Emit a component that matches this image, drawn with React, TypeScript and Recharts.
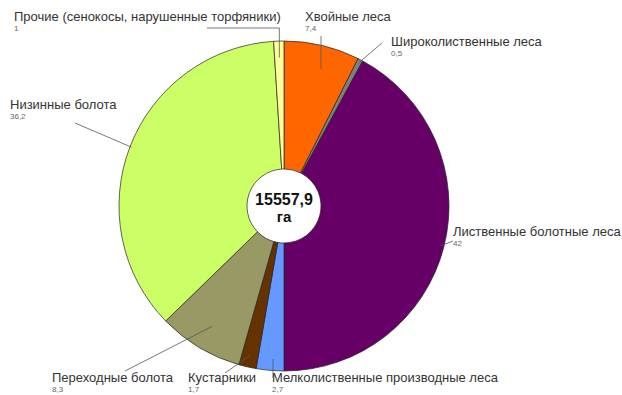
import React from 'react';
import { PieChart, Pie, Cell } from 'recharts';

const names = [
  'Хвойные леса',
  'Широколиственные леса',
  'Лиственные болотные леса',
  'Мелколиственные производные леса',
  'Кустарники',
  'Переходные болота',
  'Низинные болота',
  'Прочие (сенокосы, нарушенные торфяники)',
];
const values = [7.4, 0.5, 42, 2.7, 1.7, 8.3, 36.2, 1];
const valueLabels = ['7,4', '0,5', '42', '2,7', '1,7', '8,3', '36,2', '1'];
const totalLabel = ['15557,9', 'га'];

const colors = ['#FF6600', '#808080', '#660066', '#6699FF', '#663300', '#999966', '#CCFF66', '#FFFF99'];

// text anchor (x, baseline y), leader end point, depth of leader into slice
const labelLayout = [
  { tx: 305, ty: 21, lx: 321, ly: 36, k: 0.85 },
  { tx: 391, ty: 46, lx: 382, ly: 43, k: 0.98 },
  { tx: 453, ty: 236, lx: 453, ly: 241, k: 0.98 },
  { tx: 272, ty: 382, lx: 273, ly: 378, k: 0.93 },
  { tx: 188, ty: 382, lx: 225, ly: 373, k: 0.93 },
  { tx: 52, ty: 382, lx: 125, ly: 371, k: 0.85 },
  { tx: 10, ty: 109, lx: 75, ly: 123, k: 0.99 },
  { tx: 14, ty: 21, lx: 207, ly: 28, k: 0.9 },
];

const data = names.map((name, i) => ({ name, value: values[i] }));
const RAD = Math.PI / 180;
const FONT = 'Liberation Sans, Arial, sans-serif';

const renderLabel = (props: any) => {
  const { cx, cy, midAngle, outerRadius, index } = props;
  const l = labelLayout[index];
  const r = outerRadius * l.k;
  const sx = cx + r * Math.cos(-midAngle * RAD);
  const sy = cy + r * Math.sin(-midAngle * RAD);
  let pts = `${sx},${sy} ${l.lx},${l.ly}`;
  if (index === 7) pts = `${sx},${sy} ${sx},${l.ly} ${l.lx},${l.ly}`;
  if (index === 0) pts = `${l.lx},${sy} ${l.lx},${l.ly}`;
  if (index === 3) pts = `${l.lx},${sy} ${l.lx},${l.ly}`;
  return (
    <g>
      <polyline points={pts} fill="none" stroke="#555" strokeWidth={0.8} />
      <text x={l.tx} y={l.ty} fontSize={13} fill="#333" fontFamily={FONT}>
        {names[index]}
      </text>
      <text x={l.tx} y={l.ty + 10} fontSize={8} fill="#666" fontFamily={FONT}>
        {valueLabels[index]}
      </text>
      {index === 0 && (
        <g fontFamily={FONT} fontWeight="bold" fill="#111" textAnchor="middle">
          <text x={cx} y={cy - 1} fontSize={16}>{totalLabel[0]}</text>
          <text x={cx} y={cy + 16} fontSize={15}>{totalLabel[1]}</text>
        </g>
      )}
    </g>
  );
};

export default function App() {
  return (
    <div style={{ position: 'absolute', left: 0, top: 0, width: 622, height: 395, background: '#fff' }}>
      <PieChart width={622} height={395} margin={{ top: 0, right: 0, bottom: 0, left: 0 }}>
        <Pie
          data={data}
          dataKey="value"
          cx={284}
          cy={206}
          outerRadius={165}
          innerRadius={37}
          startAngle={90}
          endAngle={-270}
          stroke="#222"
          strokeWidth={0.7}
          label={renderLabel}
          labelLine={false}
          isAnimationActive={false}
        >
          {data.map((d, i) => (
            <Cell key={d.name} fill={colors[i]} />
          ))}
        </Pie>
      </PieChart>
    </div>
  );
}
